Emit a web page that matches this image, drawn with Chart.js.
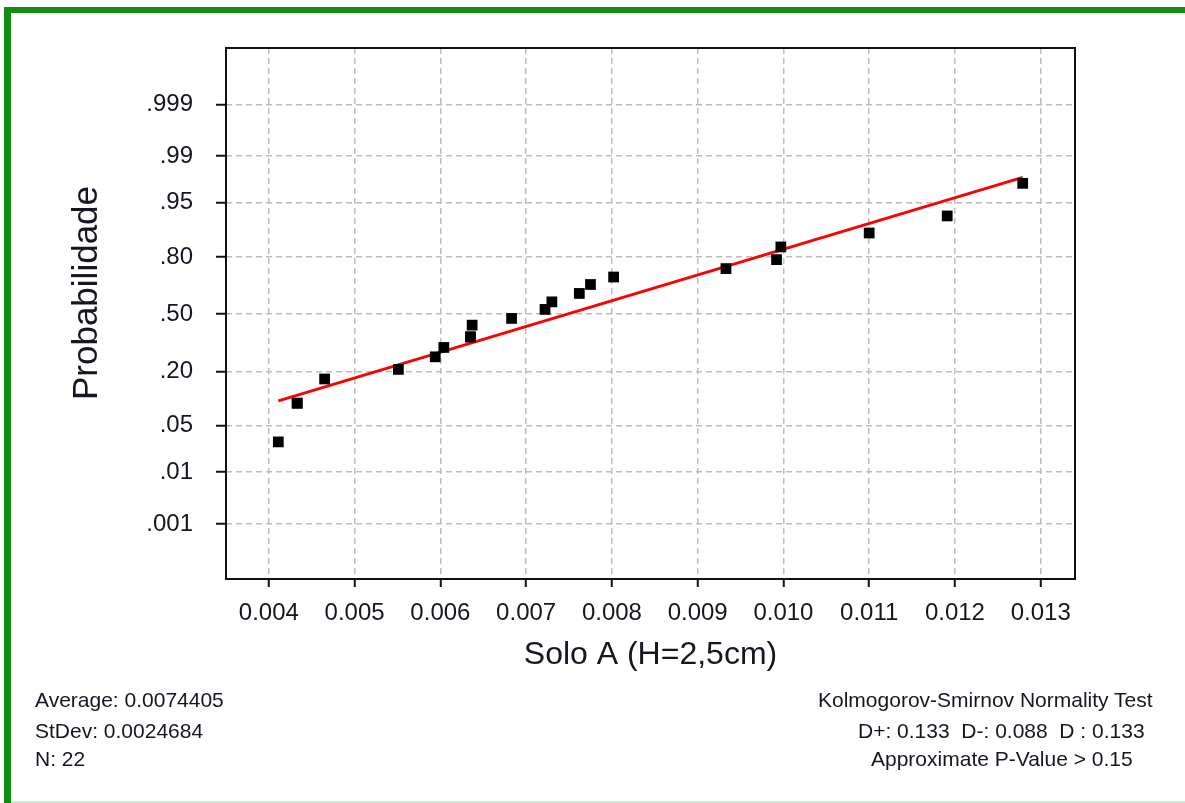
<!DOCTYPE html>
<html>
<head>
<meta charset="utf-8">
<title>Probabilidade - Solo A (H=2,5cm)</title>
<script src="https://cdn.jsdelivr.net/npm/chart.js@4.4.1/dist/chart.umd.min.js"></script>
<style>
  html, body { margin: 0; padding: 0; background: #ffffff; }
  #frame { position: relative; width: 1185px; height: 803px; overflow: hidden; background: #ffffff; }
  #frame canvas { position: absolute; left: 0; top: 0; }
  .edge { position: absolute; }
  #edgeTop { left: 4px; top: 7px; width: 1181px; height: 6px; background: #128c12; }
  #edgeLeft { left: 4px; top: 7px; width: 7px; height: 796px; background: #128c12; }
  #edgeBottom { left: 11px; top: 801px; width: 1174px; height: 2px; background: #cdeccd; }
  .stats { position: absolute; font-family: "Liberation Sans", Arial, sans-serif; font-size: 21px; color: #161622; white-space: pre; line-height: 24px; }
</style>
</head>
<body>
<div id="frame">
  <canvas id="chart" width="1185" height="803"></canvas>
  <div class="edge" id="edgeTop"></div>
  <div class="edge" id="edgeLeft"></div>
  <div class="edge" id="edgeBottom"></div>
  <div class="stats" style="left:35px; top:688px;">Average: 0.0074405</div>
  <div class="stats" style="left:35px; top:719px;">StDev: 0.0024684</div>
  <div class="stats" style="left:35px; top:747px;">N: 22</div>
  <div class="stats" style="left:818px; top:688px;">Kolmogorov-Smirnov Normality Test</div>
  <div class="stats" style="left:858px; top:719px;">D+: 0.133  D-: 0.088  D : 0.133</div>
  <div class="stats" style="left:871px; top:747px;">Approximate P-Value &gt; 0.15</div>
</div>
<script>
// Sample values (Solo A, H=2,5cm) and their plotted cumulative probabilities
const sampleX = [0.00411, 0.00433, 0.00433, 0.00465, 0.00551, 0.00594, 0.00604, 0.00635, 0.00635, 0.00637, 0.00683,
                 0.00722, 0.00730, 0.00762, 0.00775, 0.00802, 0.00933, 0.00992, 0.00997, 0.01100, 0.01191, 0.01279];
const sampleP = [0.030, 0.095, 0.095, 0.170, 0.208, 0.265, 0.312, 0.369, 0.369, 0.436, 0.475,
                 0.528, 0.572, 0.620, 0.669, 0.708, 0.749, 0.789, 0.839, 0.884, 0.926, 0.973];

// Fitted normal line endpoints
const fitX = [0.00411, 0.01279];
const fitP = [0.101, 0.978];

// Axis ticks
const probTicks = [0.001, 0.01, 0.05, 0.20, 0.50, 0.80, 0.95, 0.99, 0.999];
const probLabels = ['.001', '.01', '.05', '.20', '.50', '.80', '.95', '.99', '.999'];
const xTicks = [0.004, 0.005, 0.006, 0.007, 0.008, 0.009, 0.010, 0.011, 0.012, 0.013];
const xTickLabels = ['0.004', '0.005', '0.006', '0.007', '0.008', '0.009', '0.010', '0.011', '0.012', '0.013'];

// Inverse standard normal CDF (Acklam), used for the normal probability scale
function probit(p) {
  const a = [-3.969683028665376e+01, 2.209460984245205e+02, -2.759285104469687e+02, 1.383577518672690e+02, -3.066479806614716e+01, 2.506628277459239e+00];
  const b = [-5.447609879822406e+01, 1.615858368580409e+02, -1.556989798598866e+02, 6.680131188771972e+01, -1.328068155288572e+01];
  const c = [-7.784894002430293e-03, -3.223964580411365e-01, -2.400758277161838e+00, -2.549732539343734e+00, 4.374664141464968e+00, 2.938163982698783e+00];
  const d = [7.784695709041462e-03, 3.224671290700398e-01, 2.445134137142996e+00, 3.754408661907416e+00];
  const pl = 0.02425, ph = 1 - pl;
  let q, r;
  if (p < pl) {
    q = Math.sqrt(-2 * Math.log(p));
    return (((((c[0]*q+c[1])*q+c[2])*q+c[3])*q+c[4])*q+c[5]) / ((((d[0]*q+d[1])*q+d[2])*q+d[3])*q+1);
  }
  if (p <= ph) {
    q = p - 0.5; r = q * q;
    return (((((a[0]*r+a[1])*r+a[2])*r+a[3])*r+a[4])*r+a[5])*q / (((((b[0]*r+b[1])*r+b[2])*r+b[3])*r+b[4])*r+1);
  }
  q = Math.sqrt(-2 * Math.log(1 - p));
  return -(((((c[0]*q+c[1])*q+c[2])*q+c[3])*q+c[4])*q+c[5]) / ((((d[0]*q+d[1])*q+d[2])*q+d[3])*q+1);
}

const points = sampleX.map((x, i) => ({ x: x, y: probit(sampleP[i]) }));
const fitLine = fitX.map((x, i) => ({ x: x, y: probit(fitP[i]) }));

// Black frame around the plotting area, plus the vertical axis title
const plotFrame = {
  id: 'plotFrame',
  afterDatasetsDraw(chart) {
    const { ctx, chartArea: a } = chart;
    ctx.save();
    ctx.strokeStyle = '#111111';
    ctx.lineWidth = 2;
    ctx.strokeRect(a.left, a.top, a.right - a.left, a.bottom - a.top);
    ctx.restore();
  },
  afterDraw(chart, args, opts) {
    const { ctx } = chart;
    ctx.save();
    ctx.translate(opts.x, opts.y);
    ctx.rotate(-Math.PI / 2);
    ctx.font = opts.font;
    ctx.fillStyle = opts.color;
    ctx.textAlign = 'center';
    ctx.textBaseline = 'middle';
    ctx.fillText(opts.text, 0, 0);
    ctx.restore();
  }
};

const tickFont = { family: '"Liberation Sans", Arial, sans-serif', size: 24 };

new Chart(document.getElementById('chart'), {
  type: 'scatter',
  data: {
    datasets: [
      {
        label: 'Solo A',
        data: points,
        pointStyle: 'rect',
        pointRadius: 7.6,
        pointHoverRadius: 7.6,
        backgroundColor: '#000000',
        borderColor: '#000000',
        borderWidth: 0
      },
      {
        label: 'Ajuste normal',
        data: fitLine,
        showLine: true,
        borderColor: '#ff0000',
        borderWidth: 3,
        pointRadius: 0,
        pointHoverRadius: 0,
        fill: false
      }
    ]
  },
  options: {
    responsive: false,
    animation: false,
    events: [],
    layout: { padding: { left: 0, top: 48, right: 110, bottom: 124 } },
    plugins: {
      legend: { display: false },
      tooltip: { enabled: false },
      plotFrame: {
        text: 'Probabilidade',
        x: 87,
        y: 293,
        font: '35px "Liberation Sans", Arial, sans-serif',
        color: '#161622'
      }
    },
    scales: {
      x: {
        type: 'linear',
        min: 0.0035,
        max: 0.0134,
        afterFit(scale) { scale.height = 100; },
        afterBuildTicks(scale) { scale.ticks = xTicks.map(v => ({ value: v })); },
        ticks: {
          font: tickFont,
          color: '#161622',
          padding: 12,
          maxRotation: 0,
          autoSkip: false,
          callback: (v, i) => xTickLabels[i]
        },
        grid: {
          color: '#bdbdbd',
          lineWidth: 1.5,
          tickLength: 8,
          tickColor: '#111111',
          tickWidth: 2,
          tickBorderDash: []
        },
        border: { display: false, dash: [6, 4] },
        title: {
          display: true,
          text: 'Solo A (H=2,5cm)',
          font: { family: '"Liberation Sans", Arial, sans-serif', size: 32 },
          color: '#161622',
          padding: { top: 0, bottom: 5 }
        }
      },
      y: {
        type: 'linear',
        min: -3.9,
        max: 3.92,
        afterFit(scale) { scale.width = 226; },
        afterBuildTicks(scale) { scale.ticks = probTicks.map(p => ({ value: probit(p) })); },
        ticks: {
          font: tickFont,
          color: '#161622',
          padding: 23,
          autoSkip: false,
          callback: (v, i) => probLabels[i]
        },
        grid: {
          color: '#bdbdbd',
          lineWidth: 1.5,
          tickLength: 10,
          tickColor: '#111111',
          tickWidth: 2,
          tickBorderDash: []
        },
        border: { display: false, dash: [6, 4] },
        title: { display: false }
      }
    }
  },
  plugins: [plotFrame]
});
</script>
</body>
</html>
